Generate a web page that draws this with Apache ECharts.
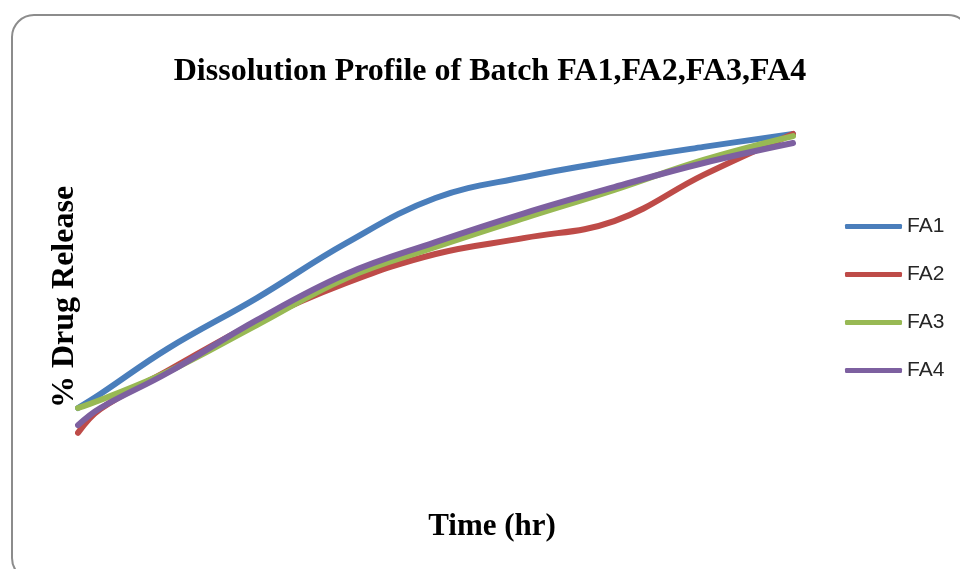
<!DOCTYPE html>
<html>
<head>
<meta charset="utf-8">
<title>Dissolution Profile of Batch FA1,FA2,FA3,FA4</title>
<script src="https://cdn.jsdelivr.net/npm/echarts@6/dist/echarts.min.js"></script>
<style>
  html, body { margin: 0; padding: 0; background: #ffffff; }
  #chart { width: 960px; height: 569px; }
</style>
</head>
<body>
<div id="chart"></div>
<script>
// Sampling times (hr)
const times = [0, 0.25, 1, 2, 3, 4, 5, 6, 7, 8];

// Cumulative % drug release for each batch
const fa1 = [20.0, 24.0, 36.9, 51.4, 67.1, 80.0, 86.0, 90.6, 94.6, 98.3];
const fa2 = [12.9, 19.7, 30.6, 44.6, 55.7, 64.0, 68.6, 73.4, 86.6, 98.3];
const fa3 = [20.0, 22.3, 30.3, 43.7, 57.1, 66.0, 74.3, 82.3, 90.9, 97.7];
const fa4 = [15.1, 20.0, 30.0, 45.1, 58.3, 67.4, 75.7, 83.1, 90.0, 95.7];

const batchNames = ['FA1', 'FA2', 'FA3', 'FA4'];
const batchValues = [fa1, fa2, fa3, fa4];
const batchColors = ['#4a7ebb', '#be4b48', '#98b954', '#7d60a0'];

const chart = echarts.init(document.getElementById('chart'), null, { renderer: 'canvas' });

const series = batchNames.map((name, i) => ({
  name: name,
  type: 'line',
  smooth: 0.4,
  showSymbol: false,
  symbol: 'none',
  clip: false,
  color: batchColors[i],
  lineStyle: { width: 6, color: batchColors[i], cap: 'round', join: 'round' },
  data: times.map((t, k) => [t, batchValues[i][k]])
}));

const boldSerif = '"Liberation Serif", "Times New Roman", serif';

chart.setOption({
  animation: false,
  backgroundColor: '#ffffff',
  grid: { left: 78, right: 167, top: 128, bottom: 91 },
  xAxis: {
    type: 'value', min: 0, max: 8,
    axisLine: { show: false }, axisTick: { show: false },
    axisLabel: { show: false }, splitLine: { show: false }
  },
  yAxis: {
    type: 'value', min: 0, max: 100,
    axisLine: { show: false }, axisTick: { show: false },
    axisLabel: { show: false }, splitLine: { show: false }
  },
  legend: {
    orient: 'vertical',
    left: 840,
    top: 211,
    itemWidth: 57,
    itemHeight: 5,
    itemGap: 27,
    icon: 'roundRect',
    data: batchNames,
    textStyle: { fontFamily: '"Liberation Sans", Arial, sans-serif', fontSize: 21, color: '#262626' }
  },
  graphic: [
    {
      type: 'rect', silent: true, z: -1,
      shape: { x: 12, y: 15, width: 958, height: 565, r: 22 },
      style: { fill: '#ffffff', stroke: '#8c8c8c', lineWidth: 2 }
    },
    {
      type: 'text', silent: true,
      x: 490, y: 72,
      style: {
        text: 'Dissolution Profile of Batch FA1,FA2,FA3,FA4',
        fontFamily: boldSerif, fontWeight: 'bold', fontSize: 32,
        fill: '#000000', align: 'center', verticalAlign: 'middle'
      }
    },
    {
      type: 'text', silent: true,
      x: 492, y: 527,
      style: {
        text: 'Time (hr)',
        fontFamily: boldSerif, fontWeight: 'bold', fontSize: 31,
        fill: '#000000', align: 'center', verticalAlign: 'middle'
      }
    },
    {
      type: 'text', silent: true,
      x: 65, y: 297, rotation: Math.PI / 2,
      style: {
        text: '% Drug Release',
        fontFamily: boldSerif, fontWeight: 'bold', fontSize: 32,
        fill: '#000000', align: 'center', verticalAlign: 'middle'
      }
    }
  ],
  series: series
});
</script>
</body>
</html>
